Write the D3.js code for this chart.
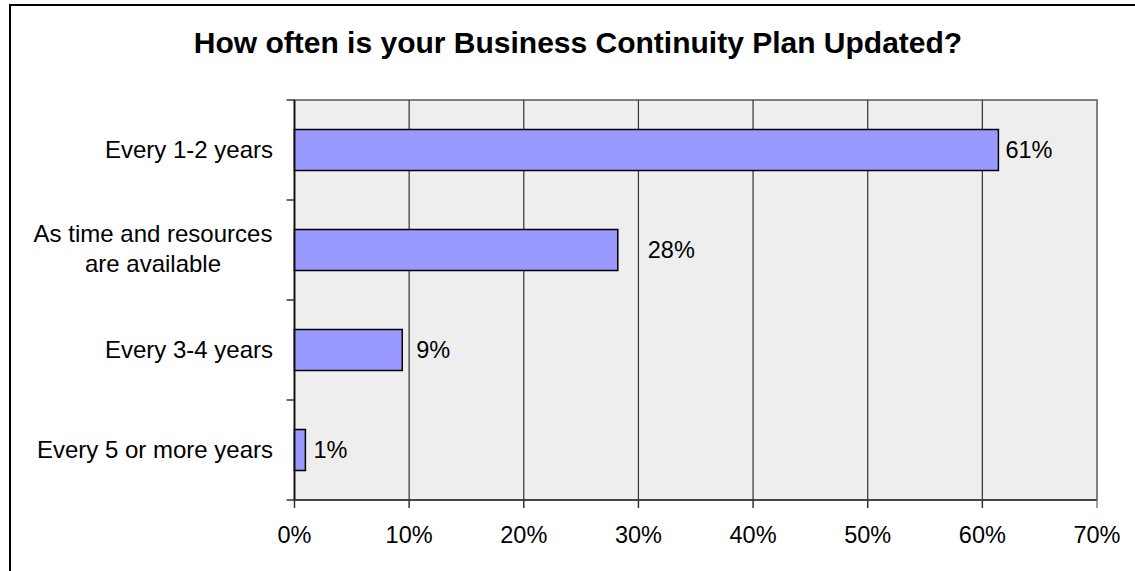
<!DOCTYPE html>
<html lang="en">
    <head>
	<title>Business Continuity Plan updates</title>
	<meta charset="utf-8">
	<style>
	 body {
	     margin: 0;
	     background: #fff;
	     font-family: "Liberation Sans", Arial, sans-serif;
	 }
	</style>
	<script src="https://d3js.org/d3.v7.min.js"></script>
    </head>
    <body>
	<script>

	 //Data
	 const categories = ['Every 1-2 years', 'As time and resources|are available', 'Every 3-4 years', 'Every 5 or more years'];
	 const shares = [0.614, 0.282, 0.094, 0.0095];
	 const xTicks = [0, 0.1, 0.2, 0.3, 0.4, 0.5, 0.6, 0.7];
	 const title = 'How often is your Business Continuity Plan Updated?';

	 //Label gaps after each bar end (layout, px)
	 const labelGap = [7, 30, 14, 8];

	 const data = categories.map((c, i) => ({cat: c, value: shares[i], gap: labelGap[i]}));

	 //Display specs
	 const W = 1135, H = 571;
	 const plot = {left: 294.5, right: 1097, top: 100, bottom: 500};

	 const svg = d3.select('body').append('svg')
		       .attr('width', W)
		       .attr('height', H);

	 //Outer frame (runs off the right and bottom edges)
	 svg.append('rect')
	    .attr('x', 10).attr('y', 5)
	    .attr('width', W).attr('height', H + 20)
	    .attr('fill', 'none')
	    .attr('stroke', '#000')
	    .attr('stroke-width', 2);

	 //Title
	 svg.append('text')
	    .attr('x', 578).attr('y', 53)
	    .attr('text-anchor', 'middle')
	    .style('font-size', '30px')
	    .style('font-weight', 'bold')
	    .text(title);

	 //Scales
	 const x = d3.scaleLinear().domain([0, 0.7]).range([plot.left, plot.right]);
	 const y = d3.scaleBand().domain(categories).range([plot.top, plot.bottom])
		     .paddingInner(0.59).paddingOuter(0.295);

	 //Plot area
	 svg.append('rect')
	    .attr('x', plot.left).attr('y', plot.top)
	    .attr('width', plot.right - plot.left).attr('height', plot.bottom - plot.top)
	    .attr('fill', '#eeeeee')
	    .attr('stroke', '#808080')
	    .attr('stroke-width', 2);

	 //Gridlines
	 svg.append('g').selectAll('line')
	    .data(xTicks.slice(1, -1))
	    .enter().append('line')
	    .attr('x1', d => x(d)).attr('x2', d => x(d))
	    .attr('y1', plot.top).attr('y2', plot.bottom)
	    .attr('stroke', '#333')
	    .attr('stroke-width', 1.2);

	 //Bars
	 svg.append('g').selectAll('rect')
	    .data(data)
	    .enter().append('rect')
	    .attr('x', x(0))
	    .attr('y', d => y(d.cat))
	    .attr('width', d => x(d.value) - x(0))
	    .attr('height', y.bandwidth())
	    .attr('fill', '#9999ff')
	    .attr('stroke', '#000')
	    .attr('stroke-width', 1.5);

	 //Value labels
	 const pct = d3.format('.0%');
	 svg.append('g').selectAll('text')
	    .data(data)
	    .enter().append('text')
	    .attr('x', d => x(d.value) + d.gap)
	    .attr('y', d => y(d.cat) + y.bandwidth() / 2 + 8)
	    .style('font-size', '23.5px')
	    .text(d => pct(d.value));

	 //Y axis
	 const bounds = categories.map(c => y(c) - y.step() * y.paddingInner() / 2).concat([plot.bottom]);
	 const yAxis = svg.append('g');
	 yAxis.append('line')
	      .attr('x1', plot.left).attr('x2', plot.left)
	      .attr('y1', plot.top).attr('y2', plot.bottom)
	      .attr('stroke', '#111').attr('stroke-width', 1.6);
	 yAxis.selectAll('.tick')
	      .data(bounds)
	      .enter().append('line')
	      .attr('class', 'tick')
	      .attr('x1', plot.left - 8).attr('x2', plot.left)
	      .attr('y1', d => d).attr('y2', d => d)
	      .attr('stroke', '#333').attr('stroke-width', 1.5);

	 //Category labels
	 const labels = yAxis.selectAll('text')
			     .data(categories)
			     .enter().append('text')
			     .style('font-size', '24px');
	 labels.each(function (c) {
	     const lines = c.split('|');
	     const t = d3.select(this);
	     const cy = y(c) + y.bandwidth() / 2;
	     if (lines.length === 1) {
		 t.attr('x', 273).attr('y', cy + 8).attr('text-anchor', 'end').text(c);
	     } else {
		 t.attr('text-anchor', 'middle');
		 lines.forEach((l, i) => {
		     t.append('tspan')
		      .attr('x', 153)
		      .attr('y', cy - 8 + i * 30)
		      .text(l);
		 });
	     }
	 });

	 //X axis
	 const xAxis = svg.append('g');
	 xAxis.append('line')
	      .attr('x1', plot.left).attr('x2', plot.right)
	      .attr('y1', plot.bottom).attr('y2', plot.bottom)
	      .attr('stroke', '#333').attr('stroke-width', 1.6);
	 xAxis.selectAll('.tick')
	      .data(xTicks)
	      .enter().append('line')
	      .attr('class', 'tick')
	      .attr('x1', d => x(d)).attr('x2', d => x(d))
	      .attr('y1', plot.bottom).attr('y2', plot.bottom + 8)
	      .attr('stroke', (d, i) => i === xTicks.length - 1 ? '#808080' : '#333')
	      .attr('stroke-width', 1.5);
	 xAxis.selectAll('text')
	      .data(xTicks)
	      .enter().append('text')
	      .attr('x', d => x(d))
	      .attr('y', 543)
	      .attr('text-anchor', 'middle')
	      .style('font-size', '23.5px')
	      .text(d => pct(d));

	</script>
    </body>
</html>
